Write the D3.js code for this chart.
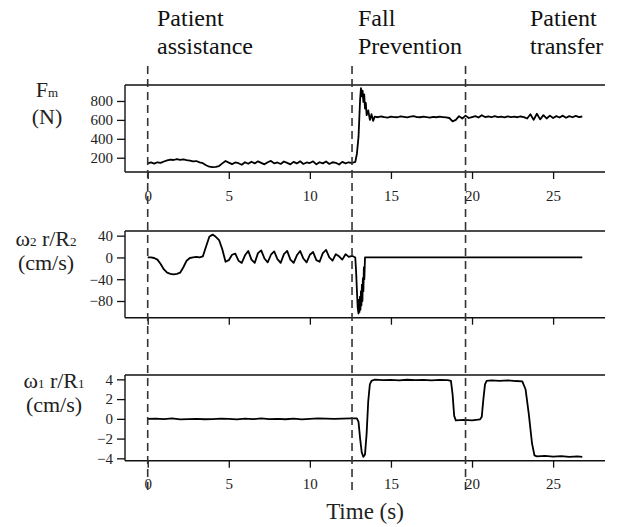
<!DOCTYPE html>
<html>
<head>
<meta charset="utf-8">
<script src="https://cdn.jsdelivr.net/npm/d3@7"></script>
<style>
  html, body { margin: 0; padding: 0; background: #fff; }
  svg { display: block; }
</style>
</head>
<body>
<svg id="chart" width="618" height="527"></svg>
<script>
// ---------- data ----------
const xTicks = [0, 5, 10, 15, 20, 25];
const fmTicks = [200, 400, 600, 800];
const w2Ticks = [-80, -40, 0, 40];
const w1Ticks = [-4, -2, 0, 2, 4];
const phaseLabels = [["Patient", "assistance"], ["Fall", "Prevention"], ["Patient", "transfer"]];
const phaseTimes = [0, 12.6, 19.6];

const fmTime = [0,0.2,0.4,0.6,0.8,1.0,1.2,1.4,1.6,1.8,2.0,2.2,2.4,2.6,2.8,3.0,3.2,3.4,3.6,3.8,4.0,4.2,4.4,4.6,4.8,5.0,5.2,5.4,5.6,5.8,6.0,6.2,6.4,6.6,6.8,7.0,7.2,7.4,7.6,7.8,8.0,8.2,8.4,8.6,8.8,9.0,9.2,9.4,9.6,9.8,10.0,10.2,10.4,10.6,10.8,11.0,11.2,11.4,11.6,11.8,12.0,12.2,12.4,12.6,12.8,12.9,13.0,13.05,13.1,13.15,13.2,13.25,13.3,13.35,13.4,13.45,13.5,13.6,13.7,13.8,13.9,14.0,14.2,14.4,14.6,14.8,15.0,15.2,15.4,15.6,15.8,16.0,16.2,16.4,16.6,16.8,17.0,17.2,17.4,17.6,17.8,18.0,18.2,18.4,18.6,18.8,19.0,19.2,19.4,19.6,19.8,20.0,20.2,20.4,20.6,20.8,21.0,21.2,21.4,21.6,21.8,22.0,22.2,22.4,22.6,22.8,23.0,23.2,23.4,23.6,23.8,24.0,24.2,24.4,24.6,24.8,25.0,25.2,25.4,25.6,25.8,26.0,26.2,26.4,26.6,26.8];
const fmValues = [140,150,138,152,145,160,172,180,176,186,178,182,175,170,162,165,150,142,120,105,100,104,112,140,165,148,132,150,142,125,152,136,158,140,162,146,130,152,166,140,150,134,160,146,130,156,140,162,134,150,144,162,130,152,140,160,134,152,146,128,156,140,152,144,155,240,420,620,820,935,850,910,790,870,720,780,650,700,600,660,590,635,628,636,630,625,634,630,628,638,632,626,634,640,630,628,635,630,624,632,628,634,630,626,620,585,600,640,615,645,620,630,640,625,650,630,636,628,640,630,634,626,638,630,634,628,636,630,615,660,600,665,605,650,615,645,620,640,625,645,622,640,628,642,630,636];

const w2Time = [0,0.2,0.4,0.6,0.8,1.0,1.2,1.4,1.6,1.8,2.0,2.2,2.4,2.6,2.8,3.0,3.2,3.4,3.6,3.8,4.0,4.2,4.4,4.6,4.8,5.0,5.2,5.4,5.6,5.8,6.0,6.2,6.4,6.6,6.8,7.0,7.2,7.4,7.6,7.8,8.0,8.2,8.4,8.6,8.8,9.0,9.2,9.4,9.6,9.8,10.0,10.2,10.4,10.6,10.8,11.0,11.2,11.4,11.6,11.8,12.0,12.2,12.4,12.6,12.8,12.85,12.9,12.95,13.0,13.03,13.06,13.09,13.12,13.15,13.18,13.21,13.24,13.27,13.3,13.33,13.36,13.4,26.8];
const w2Values = [0,0,-1,-4,-12,-22,-28,-30,-31,-30,-28,-18,-6,-1,0,1,0,2,20,38,42,38,32,15,-8,-5,5,7,-6,-10,4,12,-4,-10,8,13,-2,-9,5,11,-3,-10,6,12,-4,-10,4,12,-2,-9,5,10,-5,-8,8,14,0,-6,6,2,-4,6,1,3,0,-25,-60,-92,-103,-78,-100,-72,-96,-62,-88,-50,-80,-38,-62,-18,-40,0,0];

const w1Time = [0,0.5,1.0,1.5,2.0,2.5,3.0,3.5,4.0,4.5,5.0,5.5,6.0,6.5,7.0,7.5,8.0,8.5,9.0,9.5,10.0,10.5,11.0,11.5,12.0,12.5,12.9,13.0,13.1,13.2,13.3,13.4,13.5,13.6,13.7,13.8,14.0,14.5,15.0,15.5,16.0,16.5,17.0,17.5,18.0,18.5,18.7,18.8,18.9,19.0,19.5,20.0,20.5,20.6,20.7,20.8,20.9,21.2,21.7,22.2,22.7,23.1,23.3,23.5,23.7,23.85,24.0,24.5,25.0,25.5,26.0,26.5,26.8];
const w1Values = [0,0.03,-0.02,0.04,-0.05,-0.03,0,-0.04,-0.02,0.03,-0.01,-0.05,0.02,-0.03,0.04,-0.02,0,-0.04,0.03,-0.05,0,0.04,0.02,-0.01,0.03,0.05,0.04,-0.3,-2.0,-3.4,-3.85,-3.6,-1.5,1.8,3.5,3.85,3.98,3.92,3.95,3.9,3.96,3.92,3.95,3.9,3.94,3.92,3.85,2.5,0.3,-0.15,-0.1,-0.15,-0.05,0.2,2.0,3.5,3.85,3.9,3.85,3.9,3.83,3.8,3.0,0.5,-2.5,-3.7,-3.8,-3.75,-3.82,-3.78,-3.85,-3.8,-3.85];

// ---------- layout ----------
const FONT = "Liberation Serif";
const svg = d3.select("#chart");
const left = 125, right = 605;
const x = d3.scaleLinear().domain([-1.4, 28.2]).range([left, right]);
const fmt = d => d < 0 ? "\u2212" + Math.abs(d) : String(d);

const panels = [
  { time: fmTime, values: fmValues, ticks: fmTicks, domain: [49, 969], top: 85, bottom: 172, xLabels: true,
    label: [{main: "F", sub: "m", rest: ""}, "(N)"], labelX: 47, labelY: [97, 124] },
  { time: w2Time, values: w2Values, ticks: w2Ticks, domain: [-110.7, 48.6], top: 231, bottom: 317.7, xLabels: false,
    label: [{main: "\u03c9", sub: "2", rest: " r/R", sub2: "2"}, "(cm/s)"], labelX: 46, labelY: [246, 270] },
  { time: w1Time, values: w1Values, ticks: w1Ticks, domain: [-4.24, 4.44], top: 375, bottom: 460.7, xLabels: true,
    label: [{main: "\u03c9", sub: "1", rest: " r/R", sub2: "1"}, "(cm/s)"], labelX: 54, labelY: [388, 412] }
];

panels.forEach(p => {
  const y = d3.scaleLinear().domain(p.domain).range([p.bottom, p.top]);
  const g = svg.append("g");

  // y axis
  const ya = g.append("g").attr("transform", `translate(${left},0)`)
    .call(d3.axisLeft(y).tickValues(p.ticks).tickSize(8).tickPadding(4).tickFormat(fmt));
  ya.attr("font-family", FONT).attr("font-size", 15);
  ya.select(".domain").remove();
  ya.selectAll("line").attr("stroke", "#111").attr("stroke-width", 1.3);
  ya.selectAll("text").attr("fill", "#222");

  // x axis
  const xa = g.append("g").attr("transform", `translate(0,${p.bottom})`)
    .call(d3.axisBottom(x).tickValues(xTicks).tickSize(7).tickPadding(11).tickFormat(p.xLabels ? d3.format("d") : () => ""));
  xa.attr("font-family", FONT).attr("font-size", 15);
  xa.select(".domain").remove();
  xa.selectAll("line").attr("stroke", "#111").attr("stroke-width", 1.3);
  xa.selectAll("text").attr("fill", "#222");

  // spines
  g.append("line").attr("x1", left).attr("x2", left).attr("y1", p.top).attr("y2", p.bottom)
    .attr("stroke", "#111").attr("stroke-width", 1.4);
  g.append("line").attr("x1", left).attr("x2", right).attr("y1", p.top).attr("y2", p.top)
    .attr("stroke", "#111").attr("stroke-width", 1.4);
  g.append("line").attr("x1", left).attr("x2", right).attr("y1", p.bottom).attr("y2", p.bottom)
    .attr("stroke", "#111").attr("stroke-width", 1.4);

  // data
  const pts = p.time.map((t, i) => [t, p.values[i]]);
  g.append("path").datum(pts)
    .attr("fill", "none").attr("stroke", "#000").attr("stroke-width", 1.8)
    .attr("stroke-linejoin", "round")
    .attr("d", d3.line().x(d => x(d[0])).y(d => y(d[1])));

  // y label
  const l1 = g.append("text").attr("x", p.labelX).attr("y", p.labelY[0])
    .attr("text-anchor", "middle").attr("font-family", FONT).attr("font-size", 22).attr("fill", "#222");
  const L = p.label[0];
  l1.append("tspan").text(L.main);
  l1.append("tspan").text(L.sub).attr("font-size", 13);
  if (L.rest) {
    l1.append("tspan").text(L.rest);
    l1.append("tspan").text(L.sub2).attr("font-size", 13);
  }
  g.append("text").attr("x", p.labelX).attr("y", p.labelY[1])
    .attr("text-anchor", "middle").attr("font-family", FONT).attr("font-size", 22).attr("fill", "#222")
    .text(p.label[1]);
});

// x title
svg.append("text").attr("x", 365).attr("y", 519).attr("text-anchor", "middle")
  .attr("font-family", FONT).attr("font-size", 23).attr("fill", "#222").text("Time (s)");

// phase labels
const phaseX = [157, 358, 530];
phaseLabels.forEach((lines, i) => {
  lines.forEach((s, j) => {
    svg.append("text").attr("x", phaseX[i]).attr("y", j === 0 ? 26 : 54)
      .attr("font-family", FONT).attr("font-size", 24).attr("fill", "#111").text(s);
  });
});

// dashed phase separators
svg.selectAll(".sep").data(phaseTimes).enter().append("line")
  .attr("class", "sep")
  .attr("x1", d => x(d)).attr("x2", d => x(d))
  .attr("y1", 66).attr("y2", 492)
  .attr("stroke", "#333").attr("stroke-width", 1.6)
  .attr("stroke-dasharray", "8,5");
</script>
</body>
</html>
